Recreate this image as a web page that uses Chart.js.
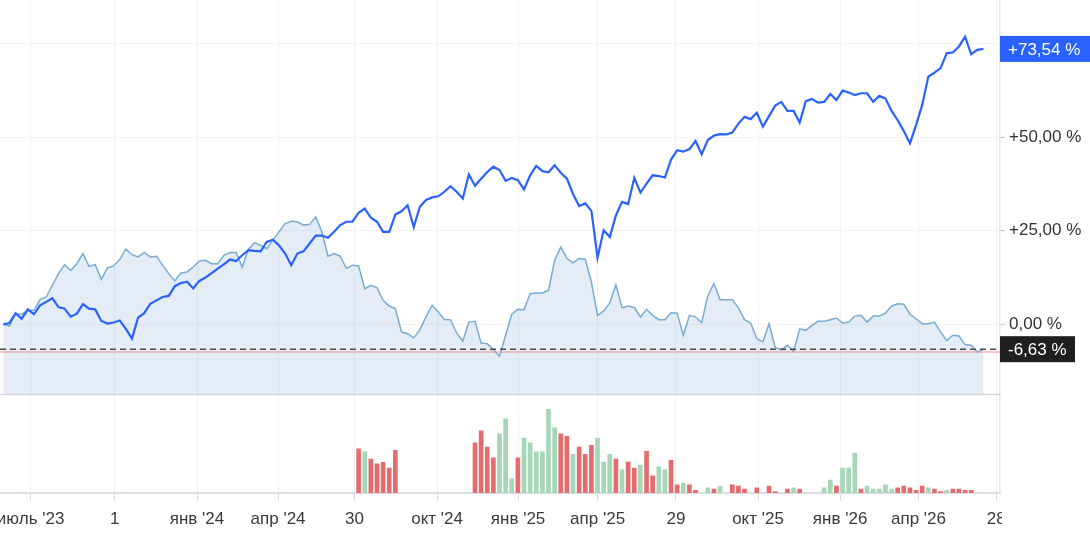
<!DOCTYPE html>
<html>
<head>
<meta charset="utf-8">
<script src="https://cdn.jsdelivr.net/npm/chart.js@4.4.1/dist/chart.umd.min.js"></script>
<style>
  html, body { margin: 0; padding: 0; background: #fff; }
  #wrap { width: 1090px; height: 552px; position: relative; }
</style>
</head>
<body>
<div id="wrap"><canvas id="chart"></canvas></div>
<script>
// weekly returns, % since start
const fundPct = [
  0.0, 0.35, 3.0, 1.5, 4.0, 2.7, 5.1, 6.0, 6.95, 4.6,
  4.2, 2.05, 2.85, 5.4, 4.2, 4.0, 0.9, 0.2, 0.5, 1.05,
  -1.2, -3.8, 1.8, 3.0, 5.5, 6.4, 7.3, 7.6, 10.2, 11.05,
  11.4, 9.6, 11.6, 12.5, 13.7, 14.9, 16.0, 17.3, 16.9, 18.45,
  19.8, 19.6, 19.5, 22.0, 22.6, 21.1, 18.9, 15.8, 18.9, 19.5,
  21.6, 23.7, 23.7, 23.1, 24.7, 26.5, 27.4, 27.4, 29.8, 30.9,
  28.5, 27.4, 24.7, 24.7, 29.3, 30.2, 31.8, 26.0, 31.4, 33.2,
  33.9, 34.2, 35.4, 36.9, 35.4, 33.6, 40.0, 37.0, 38.9, 40.7,
  42.1, 41.2, 38.3, 39.1, 38.5, 36.0, 39.8, 42.3, 40.9, 40.6,
  42.5, 40.5, 38.9, 34.8, 31.6, 32.3, 30.3, 17.8, 25.1, 23.3,
  29.1, 32.7, 32.1, 39.1, 35.2, 37.6, 39.8, 39.6, 39.2, 44.0,
  46.5, 46.1, 46.8, 49.0, 45.4, 49.2, 50.4, 50.8, 50.7, 51.2,
  53.6, 55.4, 54.8, 56.5, 52.8, 55.6, 58.4, 59.4, 57.0, 57.0,
  53.9, 59.6, 60.2, 59.2, 59.4, 61.5, 59.9, 62.4, 61.9, 61.2,
  61.7, 61.7, 59.4, 61.0, 60.3, 57.0, 54.5, 51.6, 48.3, 53.2,
  58.6, 66.1, 67.2, 68.4, 72.4, 72.6, 74.2, 76.8, 72.1, 73.3,
  73.54
];
const benchPct = [
  0.0, -0.45, 2.85, 2.7, 3.75, 3.75, 6.6, 7.3, 10.4, 13.55,
  15.95, 14.4, 16.2, 18.9, 15.5, 15.95, 12.0, 15.05, 15.6, 17.3,
  20.1, 18.6, 18.0, 19.2, 18.0, 18.2, 15.8, 13.55, 11.6, 13.7,
  14.0, 15.3, 16.9, 17.1, 16.2, 16.2, 18.45, 19.2, 19.2, 15.3,
  20.0, 21.8, 21.1, 20.2, 22.5, 24.7, 26.9, 27.5, 27.4, 26.5,
  26.7, 28.7, 24.7, 18.2, 18.9, 18.2, 14.9, 15.8, 15.6, 9.5,
  10.4, 9.8, 6.4, 4.9, 4.2, -2.05, -2.5, -3.6, -1.4, 2.0,
  5.1, 3.3, 1.3, 1.25, -2.3, -4.5, 0.6, 0.8, -5.0, -5.2,
  -6.7, -8.5, -2.9, 2.7, 4.0, 3.9, 8.2, 8.4, 8.4, 9.1,
  17.1, 20.7, 17.6, 16.4, 17.6, 17.4, 11.3, 2.4, 3.6, 5.7,
  10.6, 4.4, 4.9, 4.5, 2.0, 4.0, 2.4, 1.25, 1.25, 3.1,
  3.0, -2.9, 2.4, 2.0, 0.45, 7.6, 10.9, 6.6, 6.6, 6.6,
  4.4, 1.25, 0.35, -3.8, -4.7, 0.2, -6.1, -6.8, -5.6, -7.2,
  -1.2, -1.6, -0.27, 0.8, 0.8, 1.25, 1.7, 0.35, 0.6, 2.2,
  2.4, 0.6, 2.2, 2.2, 3.0, 4.9, 5.5, 5.35, 2.7, 1.5,
  0.18, 0.18, 0.6, -2.05, -4.3, -2.9, -3.1, -5.4, -5.6, -7.4,
  -6.63
];

// volume bars: week index, relative volume, side (u = up, d = down)
const volWeeks = [
  58, 59, 60, 61, 62, 63, 64,
  77, 78, 79, 80, 81, 82, 83, 84, 85, 86, 87, 88, 89, 90,
  91, 92, 93, 94, 95, 96, 97, 98, 99, 100, 101, 102, 103, 104,
  105, 106, 107, 108, 109, 110, 111, 112, 113, 115, 116, 117, 119, 120,
  121, 123, 125, 126, 128, 129, 130, 134, 135, 136, 137, 138, 139, 140,
  141, 142, 143, 144, 145, 146, 147, 148, 149, 150, 151, 152, 153, 154,
  155, 156, 157, 158
];
const volValues = [
  44.3, 41.3, 34, 29.3, 30.7, 25, 42.7,
  50.3, 62.3, 46, 35.3, 59.3, 74.3, 14.3, 35.3, 55, 50.3, 41.3, 41.3, 83.7, 65.3,
  59.3, 56.7, 38.7, 46, 38.7, 47.7, 55, 31, 38.7, 34, 23.3, 31, 25, 28,
  41.7, 17.3, 26.3, 23.3, 32.7, 8.3, 10, 8.3, 2.7, 5.3, 4, 7, 8.3, 7,
  4, 5.3, 7, 1.3, 4, 5.3, 4, 5.3, 13, 7, 25, 25, 40, 4,
  7, 4, 4, 8.3, 4, 5.3, 7, 5.3, 2.7, 7, 5.3, 4, 1.3, 2.7,
  4, 4, 2.7, 2.7
];
const volSide = [
  'd', 'u', 'd', 'd', 'd', 'd', 'd',
  'd', 'd', 'd', 'd', 'u', 'u', 'u', 'd', 'u', 'u', 'u', 'u', 'u', 'u',
  'd', 'd', 'u', 'd', 'd', 'd', 'u', 'u', 'u', 'd', 'u', 'd', 'd', 'u',
  'd', 'd', 'u', 'u', 'd', 'd', 'u', 'd', 'd', 'u', 'd', 'u', 'd', 'd',
  'd', 'd', 'd', 'd', 'd', 'u', 'd', 'u', 'u', 'd', 'u', 'u', 'u', 'd',
  'u', 'u', 'u', 'u', 'u', 'd', 'd', 'd', 'd', 'd', 'u', 'd', 'd', 'u',
  'd', 'd', 'd', 'd'
];

// x-axis ticks (in weeks) and their labels
const tickWeeks = [4.46, 18.19, 31.62, 44.85, 57.34, 70.81, 84.03, 97.01, 109.8, 123.2, 136.6, 149.4, 162.1];
const tickLabels = ["июль '23", "1", "янв '24", "апр '24", "30", "окт '24", "янв '25", "апр '25", "29", "окт '25", "янв '26", "апр '26", "28"];
const yTicks = [0, 25, 50, 75];
const refLevel = -7.4;

const X_MIN = -0.54, X_MAX = 162.7;
const BLUE = '#2962ff';
const UP = 'rgb(165,214,182)', DOWN = 'rgb(228,108,108)';
const FONT = '"Liberation Sans", Arial, sans-serif';

function pct(v) {
  const s = Math.abs(v).toFixed(2).replace('.', ',') + ' %';
  if (v > 0) return '+' + s;
  if (v < 0) return '-' + s;
  return s;
}

Chart.defaults.font.family = FONT;
Chart.defaults.font.size = 17;
Chart.defaults.color = '#333';

const lastFund = fundPct[fundPct.length - 1];
const lastBench = benchPct[benchPct.length - 1];

function drawBadge(ctx, x, y, w, color, text) {
  ctx.fillStyle = color;
  ctx.fillRect(x, y - 13, w, 26);
  ctx.fillStyle = '#fff';
  ctx.textAlign = 'left';
  ctx.textBaseline = 'middle';
  ctx.fillText(text, x + 8, y + 1);
}

const overlay = {
  id: 'overlay',
  afterDraw(chart) {
    const { ctx, chartArea, scales: { y } } = chart;
    ctx.save();
    ctx.strokeStyle = '#d4d6db';
    ctx.lineWidth = 1.5;
    ctx.beginPath();
    ctx.moveTo(chartArea.left, y.bottom);
    ctx.lineTo(chartArea.right, y.bottom);
    ctx.stroke();
    // the last date label is clipped at the plot edge
    ctx.fillStyle = '#fff';
    ctx.fillRect(chartArea.right + 2, chartArea.bottom + 1, chart.width, chart.height);
    ctx.font = '17px ' + FONT;
    drawBadge(ctx, chartArea.right, y.getPixelForValue(lastFund), 90, BLUE, pct(lastFund));
    drawBadge(ctx, chartArea.right, y.getPixelForValue(lastBench), 75, '#1f1f1f', pct(lastBench));
    ctx.restore();
  }
};

const fixWidth = (scale) => {
  scale.width = 90;
  scale.paddingTop = 0;
  scale.paddingBottom = 0;
};

new Chart(document.getElementById('chart'), {
  data: {
    datasets: [
      {
        type: 'line',
        data: fundPct.map((v, i) => ({ x: i, y: v })),
        borderColor: BLUE,
        borderWidth: 2.2,
        pointRadius: 0,
        tension: 0,
        yAxisID: 'y',
        order: 0
      },
      {
        type: 'line',
        data: [{ x: X_MIN, y: lastBench }, { x: X_MAX, y: lastBench }],
        borderColor: '#4a4a4a',
        borderWidth: 1.5,
        borderDash: [6, 4],
        pointRadius: 0,
        yAxisID: 'y',
        order: 1
      },
      {
        type: 'line',
        data: [{ x: X_MIN, y: refLevel }, { x: X_MAX, y: refLevel }],
        borderColor: 'rgba(240,130,138,0.6)',
        borderWidth: 1.5,
        pointRadius: 0,
        yAxisID: 'y',
        order: 1
      },
      {
        type: 'line',
        data: benchPct.map((v, i) => ({ x: i, y: v })),
        borderColor: 'rgb(120,172,212)',
        borderWidth: 1.5,
        backgroundColor: 'rgba(120,165,205,0.2)',
        fill: 'start',
        pointRadius: 0,
        tension: 0,
        yAxisID: 'y',
        order: 2
      },
      {
        type: 'bar',
        data: volWeeks.map((w, k) => ({ x: w, y: volValues[k] })),
        backgroundColor: volSide.map(s => (s === 'u' ? UP : DOWN)),
        barThickness: 4,
        yAxisID: 'yv',
        order: 3
      }
    ]
  },
  options: {
    responsive: true,
    maintainAspectRatio: false,
    animation: false,
    layout: { padding: 0 },
    plugins: {
      legend: { display: false },
      tooltip: { enabled: false }
    },
    scales: {
      x: {
        type: 'linear',
        min: X_MIN,
        max: X_MAX,
        offset: false,
        afterBuildTicks: (scale) => { scale.ticks = tickWeeks.map(v => ({ value: v })); },
        afterFit: (scale) => {
          scale.height = 59;
          scale.paddingLeft = 0;
          scale.paddingRight = 0;
        },
        ticks: {
          autoSkip: false,
          maxRotation: 0,
          padding: 8,
          color: '#3a3a3a',
          callback: (v, i) => tickLabels[i]
        },
        grid: { offset: false, color: '#f1f2f5', tickLength: 8, tickColor: '#d8dbe1' },
        border: { color: '#dcdee3', width: 2 }
      },
      y: {
        type: 'linear',
        position: 'right',
        stack: 'panels',
        stackWeight: 4,
        min: -18.7,
        max: 86.6,
        afterBuildTicks: (scale) => { scale.ticks = yTicks.map(v => ({ value: v })); },
        afterFit: fixWidth,
        ticks: { padding: 4, color: '#333', callback: (v) => pct(v) },
        grid: { color: '#f3f3f3', tickLength: 5, tickColor: '#c4c4c4' },
        border: { color: '#e3e5ea', width: 1.5 }
      },
      yv: {
        type: 'linear',
        position: 'right',
        stack: 'panels',
        stackWeight: 1,
        min: 0,
        max: 98.7,
        afterFit: fixWidth,
        ticks: { display: false },
        grid: { display: false },
        border: { color: '#e3e5ea', width: 1.5 }
      }
    }
  },
  plugins: [overlay]
});
</script>
</body>
</html>
